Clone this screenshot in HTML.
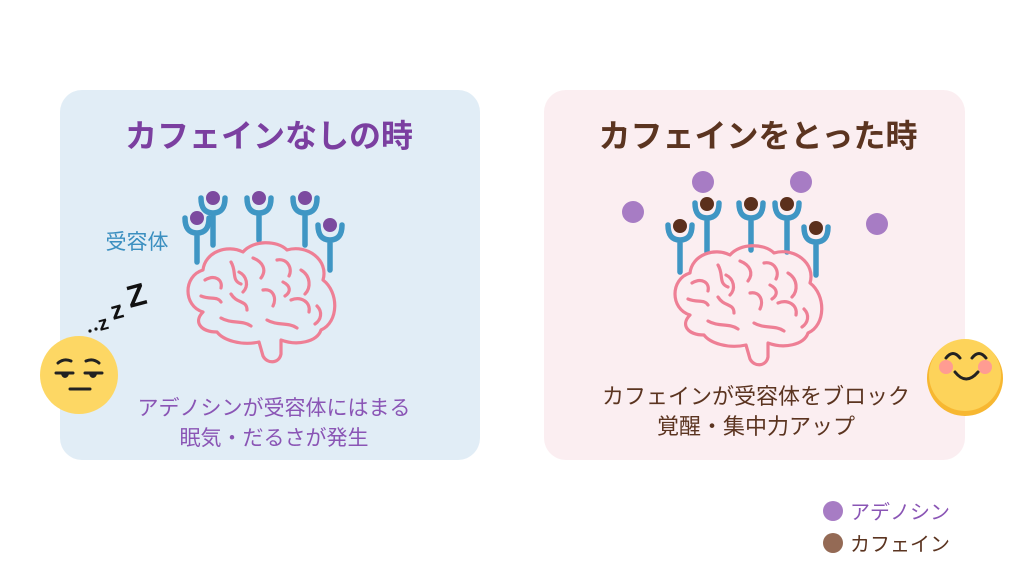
<!DOCTYPE html>
<html><head><meta charset="utf-8"><style>
body{margin:0;width:1024px;height:576px;background:#fff;overflow:hidden}
svg{display:block}
text{font-family:"Liberation Sans","Noto Sans CJK JP",sans-serif}
</style></head><body>
<svg width="1024" height="576" viewBox="0 0 1024 576">
<defs>
<g id="brain" fill="none" stroke="#ee7f95" stroke-width="3.2" stroke-linecap="round" stroke-linejoin="round">
<path d="M22,72 C2,66 2,36 22,30 C24,12 46,4 62,12 C72,0 96,0 106,10 C126,4 148,20 142,40 C158,52 158,82 140,90 C136,102 116,106 100,100 L100,114 C98,124 86,124 82,116 L78,102 C60,106 42,100 36,92 C20,92 12,82 22,72 Z"/>
<path d="M24,40 C34,34 42,40 40,48"/><path d="M50,22 C56,32 50,40 60,44"/><path d="M72,18 C82,22 86,30 80,38"/>
<path d="M96,20 C106,18 112,28 108,36"/><path d="M120,30 C130,36 130,48 124,54"/><path d="M20,56 C30,60 36,56 40,62"/>
<path d="M50,54 C56,64 66,60 66,70"/><path d="M82,50 C92,48 96,58 92,66"/><path d="M110,60 C120,56 130,62 128,72"/>
<path d="M40,78 C50,84 62,80 70,86"/><path d="M86,80 C96,86 108,82 116,88"/><path d="M58,32 C66,36 68,46 62,52"/>
<path d="M102,42 C110,46 110,52 104,56"/><path d="M136,66 C142,72 140,80 134,84"/>
</g>
</defs>
<rect x="60" y="90" width="420" height="370" rx="22" fill="#e1edf6"/>
<rect x="544" y="90" width="421" height="370" rx="22" fill="#fbeef1"/>
<text x="269" y="147" text-anchor="middle" font-size="32" font-weight="bold" fill="#7b3fa0">カフェインなしの時</text>
<text x="758" y="147" text-anchor="middle" font-size="32" font-weight="bold" fill="#5b3420">カフェインをとった時</text>
<text x="137" y="249" text-anchor="middle" font-size="21" fill="#3b8fc0">受容体</text>
<g stroke="#3f96c4" stroke-width="5.5" stroke-linecap="round" fill="none">
<path d="M185,218 Q185,233 197,233 Q209,233 209,218 M197,233 V262"/>
<path d="M201,198 Q201,213 213,213 Q225,213 225,198 M213,213 V245"/>
<path d="M247,198 Q247,213 259,213 Q271,213 271,198 M259,213 V240"/>
<path d="M293,198 Q293,213 305,213 Q317,213 317,198 M305,213 V245"/>
<path d="M318,225 Q318,240 330,240 Q342,240 342,225 M330,240 V270"/>
<path d="M668,225 Q668,240 680,240 Q692,240 692,225 M680,240 V272"/>
<path d="M695,203 Q695,218 707,218 Q719,218 719,203 M707,218 V252"/>
<path d="M739,203 Q739,218 751,218 Q763,218 763,203 M751,218 V250"/>
<path d="M775,203 Q775,218 787,218 Q799,218 799,203 M787,218 V252"/>
<path d="M804,227 Q804,242 816,242 Q828,242 828,227 M816,242 V275"/>
</g>
<g fill="#7c4a9f"><circle cx="197" cy="218" r="7"/><circle cx="213" cy="198" r="7"/><circle cx="259" cy="198" r="7"/><circle cx="305" cy="198" r="7"/><circle cx="330" cy="225" r="7"/></g>
<g fill="#5b2f1c"><circle cx="680" cy="226" r="7"/><circle cx="707" cy="204" r="7"/><circle cx="751" cy="204" r="7"/><circle cx="787" cy="204" r="7"/><circle cx="816" cy="228" r="7"/></g>
<g fill="#a77cc4"><circle cx="633" cy="212" r="11"/><circle cx="703" cy="182" r="11"/><circle cx="801" cy="182" r="11"/><circle cx="877" cy="224" r="11"/><circle cx="833" cy="511" r="10"/></g>
<circle cx="833" cy="543" r="10" fill="#946a55"/>
<use href="#brain" x="181" y="240"/>
<use href="#brain" x="668" y="243"/>
<text x="274" y="415" text-anchor="middle" font-size="21" fill="#8a55b5">アデノシンが受容体にはまる</text>
<text x="274" y="445" text-anchor="middle" font-size="21" fill="#8a55b5">眠気・だるさが発生</text>
<text x="756" y="404" text-anchor="middle" font-size="22" fill="#5b3420">カフェインが受容体をブロック</text>
<text x="756" y="434" text-anchor="middle" font-size="22" fill="#5b3420">覚醒・集中力アップ</text>
<text x="850" y="519" font-size="20" fill="#8a55b5">アデノシン</text>
<text x="850" y="551" font-size="20" fill="#5b3420">カフェイン</text>
<circle cx="90" cy="331" r="1.6" fill="#111"/><circle cx="96" cy="329" r="1.6" fill="#111"/>
<text x="100" y="331" font-size="20" font-weight="bold" fill="#111" transform="rotate(-15 100 331)">z</text>
<text x="113" y="320" font-size="25" font-weight="bold" fill="#111" transform="rotate(-15 113 320)">z</text>
<text x="130" y="308" font-size="31" font-weight="bold" fill="#111" transform="rotate(-15 130 308)">Z</text>
<circle cx="79" cy="375" r="39" fill="#fdd764"/>
<g stroke="#222" stroke-width="3" stroke-linecap="round" fill="none">
<path d="M58,363 Q64,358 71,361"/><path d="M86,361 Q93,358 99,363"/>
<path d="M56,373 H73"/><path d="M85,373 H102"/><path d="M70,389 H90"/>
</g>
<path d="M61,373 a4,5 0 0 0 8,0Z M89,373 a4,5 0 0 0 8,0Z" fill="#222"/>
<circle cx="965" cy="378" r="38" fill="#f7b731"/>
<circle cx="965" cy="375" r="36" fill="#fdd35a"/>
<circle cx="946" cy="367" r="7" fill="#ff8fa0" opacity="0.8"/><circle cx="985" cy="367" r="7" fill="#ff8fa0" opacity="0.8"/>
<g stroke="#222" stroke-width="3" stroke-linecap="round" fill="none">
<path d="M946,358 Q953,349 960,358"/><path d="M972,358 Q979,349 986,358"/>
<path d="M955,372 Q966,386 978,372"/>
</g>
</svg>
</body></html>
